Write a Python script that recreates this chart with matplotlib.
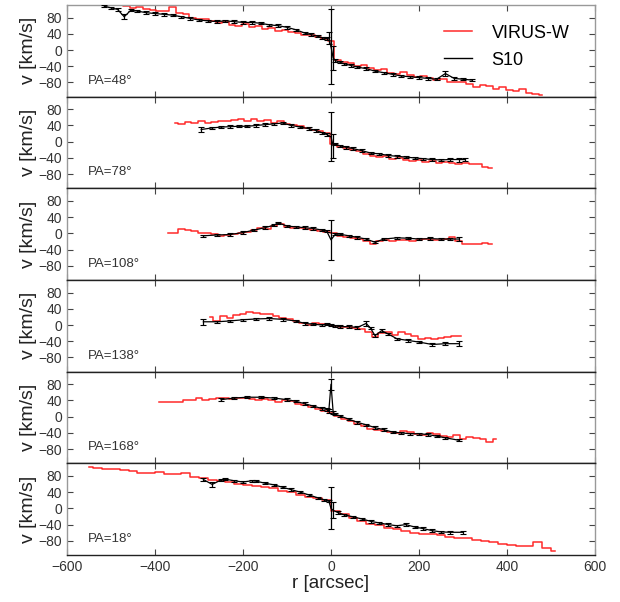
import numpy as np
import matplotlib
matplotlib.use("Agg")
import matplotlib.pyplot as plt
from matplotlib.lines import Line2D

plt.rcParams['font.family'] = ['Liberation Sans', 'DejaVu Sans']

# ---------------- data ----------------
pa_labels = ["PA=48°", "PA=78°", "PA=108°", "PA=138°", "PA=168°", "PA=18°"]

# VIRUS-W (red) : start, step, values
virus_start = [-510, -355, -370, -275, -390, -550]
virus_step = [15, 15, 15, 15, 15, 20]
virus_v = [
    [112, 113, 110, 108, 104, 106, 100, 99, 97, 95, 105, 92, 88, 80, 77, 76, 72, 66, 70, 62,
     58, 64, 56, 60, 52, 55, 47, 50, 44, 42, 38, 36, 32, 28,
     22, -24, -30, -33, -40, -38, -45, -50, -48, -56, -58, -55, -62, -66, -64, -70, -75, -72,
     -78, -80, -79, -84, -90, -86, -88, -95, -90, -98, -100, -97, -105, -108, -112],
    [46, 44, 48, 45, 50, 47, 49, 52, 50, 54, 56, 52, 55, 50, 53, 47, 50, 44, 42, 38, 34, 30, 27, 22,
     -6, -12, -16, -20, -24, -30, -35, -38, -36, -42, -40, -46, -48, -46, -50, -48, -52, -50, -53,
     -55, -52, -56, -55, -62, -64],
    [0, 2, 10, 8, 5, 2, 0, -2, -6, -4, -2, 2, 4, 8, 12, 10, 18, 22, 16, 14, 12, 10, 8, 6, 4,
     0, -6, -8, -11, -14, -20, -26, -18, -16, -18, -17, -16, -18, -16, -15, -17, -16, -14, -8,
     -18, -26, -26, -26, -25, -26],
    [20, 10, 22, 18, 24, 28, 32, 30, 26, 28, 22, 18, 14, 10, 6, 0, 4, 2, 0,
     -2, -4, -6, -8, -10, -16, -30, -20, -18, -24, -18, -22, -28, -34, -32, -35, -31, -30, -28, -27],
    [37, 37, 37, 36, 40, 42, 46, 40, 44, 46, 46, 44, 45, 46, 44, 42, 43, 40, 36, 40, 38, 32, 30,
     24, 18, 14,
     8, 2, -6, -10, -18, -24, -30, -34, -36, -38, -39, -36, -38, -42, -44, -40, -42, -48, -50,
     -46, -54, -50, -52, -56, -62, -54],
    [101, 100, 98, 96, 94, 91, 88, 86, 89, 84, 85, 88, 78, 75, 70, 68, 66, 60, 58, 55, 52, 50,
     44, 40, 34, 29, 25, 20,
     -6, -14, -24, -30, -38, -42, -48, -51, -56, -60, -63, -64, -66, -70, -73, -74, -78, -80,
     -84, -88, -90, -93, -94, -82, -98, -104],
]

# S10 (black) : radius, velocity, errors
s10_r = [
    [-515, -500, -485, -470, -455, -440, -420, -400, -380, -360, -340, -320, -300, -280, -260,
     -240, -220, -200, -180, -160, -140, -120, -100, -80, -60, -45, -30, -20, -10, -5, 0, 5, 10,
     20, 30, 45, 60, 80, 100, 120, 140, 160, 180, 200, 220, 240, 260, 280, 300, 320],
    [-295, -270, -250, -230, -210, -190, -170, -150, -130, -110, -90, -70, -50, -35, -20, -10, 0,
     5, 10, 20, 35, 50, 70, 90, 110, 130, 150, 170, 190, 210, 230, 250, 270, 290, 305],
    [-290, -260, -230, -200, -175, -150, -130, -120, -100, -80, -60, -40, -20, -10, 0, 10, 20, 40,
     60, 80, 100, 120, 150, 175, 200, 225, 250, 270, 290],
    [-290, -260, -230, -200, -170, -140, -110, -80, -60, -40, -20, -10, 0, 10, 20, 40, 60, 80, 90,
     100, 115, 130, 150, 175, 200, 230, 260, 290],
    [-250, -220, -190, -160, -130, -100, -80, -60, -40, -20, -10, -5, 0, 5, 10, 20, 40, 60, 80,
     100, 120, 140, 160, 180, 200, 220, 240, 260, 290],
    [-290, -270, -250, -240, -220, -200, -180, -170, -150, -130, -110, -90, -70, -50, -30, -15,
     -5, 0, 5, 15, 30, 50, 70, 90, 110, 130, 150, 170, 190, 210, 230, 250, 270, 300],
]
s10_v = [
    [108, 104, 100, 82, 98, 96, 92, 90, 88, 86, 82, 78, 74, 72, 70, 72, 70, 68, 68, 66, 62, 60,
     56, 50, 42, 38, 34, 30, 28, 30, 8, -20, -26, -30, -34, -38, -42, -46, -52, -56, -60, -64,
     -66, -68, -70, -72, -58, -70, -72, -74],
    [30, 34, 36, 37, 38, 38, 40, 42, 44, 46, 40, 36, 32, 28, 22, 18, 12, -10, -6, -10, -14, -17,
     -22, -28, -30, -34, -36, -38, -40, -42, -44, -45, -44, -44, -44],
    [-6, -4, -3, 2, 8, 14, 20, 26, 18, 16, 14, 12, 8, 6, -16, -2, -2, -6, -10, -14, -22, -14,
     -11, -12, -14, -13, -14, -14, -14],
    [8, 8, 10, 13, 15, 16, 14, 10, 4, 2, 0, 2, 0, -2, -4, -4, -6, 4, -8, -26, -14, -22, -34,
     -38, -42, -48, -46, -46],
    [42, 46, 48, 48, 46, 42, 38, 32, 26, 20, 18, 14, 80, 10, 6, 2, -6, -14, -20, -27, -32, -38,
     -40, -42, -42, -44, -48, -52, -58],
    [71, 59, 70, 72, 68, 65, 68, 67, 62, 58, 52, 46, 40, 33, 26, 21, 18, 0, -5, -10, -16, -21,
     -26, -32, -36, -40, -43, -40, -46, -50, -55, -58, -59, -59],
]
s10_err_default = 3
s10_err_big = [
    {-470: 6, -5: 15, 0: 92, 5: 30, 260: 6},
    {-295: 5, 0: 60, 5: 30, 290: 5},
    {0: 50, 290: 6},
    {-290: 8, 80: 6, 290: 6},
    {0: 14, -5: 6},
    {-270: 6, 0: 52, 5: 20},
]

# ---------------- plotting ----------------
fig = plt.figure(figsize=(6.2, 6.02), dpi=100)
left, right, top, bottom = 67 / 620, 595 / 620, 1 - 5 / 602, 1 - 555 / 602
n = 6
h = (top - bottom) / n
axes = []
for i in range(n):
    ax = fig.add_axes([left, top - (i + 1) * h, right - left, h])
    axes.append(ax)

red = '#ff2a2a'
for i, ax in enumerate(axes):
    vv = np.array(virus_v[i], dtype=float)
    rr = virus_start[i] + virus_step[i] * np.arange(len(vv))
    ax.plot(rr, vv, color=red, lw=1.1, drawstyle='steps-mid', zorder=2)

    sr = np.array(s10_r[i], dtype=float)
    sv = np.array(s10_v[i], dtype=float)
    se = np.array([s10_err_big[i].get(r, s10_err_default) for r in s10_r[i]], dtype=float)
    ax.errorbar(sr, sv, yerr=se, color='black', lw=0.9, elinewidth=0.9, capsize=2,
                capthick=0.8, zorder=3)

    ax.set_xlim(-600, 600)
    ax.set_ylim(-115, 111)
    ax.set_yticks([-80, -40, 0, 40, 80])
    ax.set_xticks([-600, -400, -200, 0, 200, 400, 600])
    ax.tick_params(direction='in', top=True, right=True, length=4, width=0.8,
                   colors='#444444', labelsize=10, labelcolor='#333333')
    if i < n - 1:
        ax.tick_params(labelbottom=False)
    ax.set_ylabel('v [km/s]', fontsize=14, color='#222222', labelpad=1)
    ax.text(0.04, 0.14, pa_labels[i], transform=ax.transAxes, fontsize=9.5, color='#333333')

    for s in ['left', 'right']:
        ax.spines[s].set_color('#999999')
    ax.spines['bottom'].set_color('#222222')
    ax.spines['top'].set_color('#222222' if i > 0 else '#999999')
    for s in ax.spines.values():
        s.set_linewidth(1.0)

axes[-1].set_xlabel('r [arcsec]', fontsize=13.5, color='#222222', labelpad=1)

handles = [Line2D([], [], color=red, lw=1.1), Line2D([], [], color='black', lw=1.0)]
axes[0].legend(handles, ['VIRUS-W', 'S10'], loc='upper right', frameon=False, fontsize=13,
               handlelength=1.5, handletextpad=1.1, labelspacing=0.55,
               bbox_to_anchor=(0.965, 0.865), borderaxespad=0)

fig.savefig('out.png', dpi=100)
